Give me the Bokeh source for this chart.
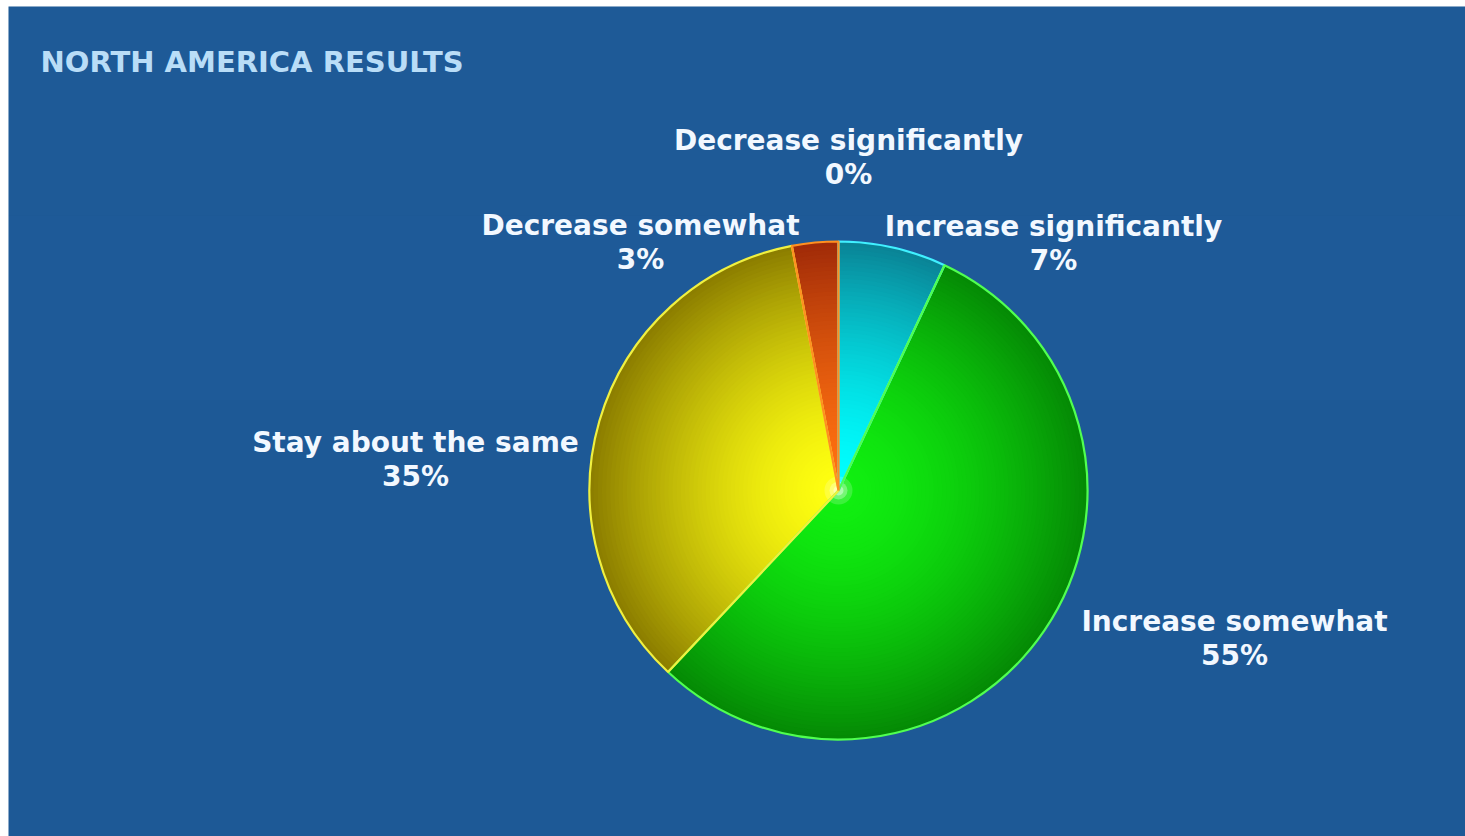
import numpy as np
from bokeh.plotting import figure
from bokeh.models import Range1d
from bokeh.core.properties import value
from bokeh.embed import file_html
from bokeh.resources import INLINE

# ---- data ----
title_text = "NORTH AMERICA RESULTS"
categories = ["Increase significantly", "Increase somewhat", "Stay about the same",
              "Decrease somewhat", "Decrease significantly"]
percents = [7, 55, 35, 3, 0]

# ---- styles / layout ----
center_colors = ["#00ffff", "#10f010", "#ffff10", "#ff7010", "#ff3000"]
edge_colors = ["#0a8496", "#058a05", "#8c7e00", "#a02a08", "#a02a08"]
outline_colors = ["#40f0ff", "#50ff50", "#f0f040", "#ff9020", "#ff9020"]
# label centre offsets (pixels) from the pie centre
label_offsets = [(215, 247), (396, -148), (-423, 31), (-198, 248), (10, 333)]

W, H = 1465, 836
ML, MT = 8, 6
cx, cy_img, R = 838, 490, 249
cy = H - cy_img

p = figure(width=W, height=H, output_backend="svg", toolbar_location=None,
           x_range=Range1d(ML, W), y_range=Range1d(0, H - MT),
           min_border_left=ML, min_border_top=MT, min_border_right=0, min_border_bottom=0)
p.axis.visible = False
p.grid.visible = False
p.outline_line_color = None
p.border_fill_color = "white"
p.background_fill_color = "#1d5996"

# faint background bands
p.quad(left=[ML], right=[W], bottom=[H - 400], top=[H - 215], fill_color="#3a78b8",
       fill_alpha=0.07, line_color=None)
p.quad(left=[ML], right=[W], bottom=[H - 215], top=[H - MT], fill_color="#3a78b8",
       fill_alpha=0.03, line_color=None)

def hex2rgb(h):
    h = h.lstrip("#")
    return np.array([int(h[i:i + 2], 16) for i in (0, 2, 4)], dtype=float)

def rgb2hex(c):
    c = np.clip(np.round(c), 0, 255).astype(int)
    return "#%02x%02x%02x" % tuple(c)

fracs = np.array(percents, dtype=float) / sum(percents)
cum = np.concatenate([[0], np.cumsum(fracs)])
starts = np.pi / 2 - 2 * np.pi * cum[1:]
ends = np.pi / 2 - 2 * np.pi * cum[:-1]

N = 60
for i, f in enumerate(fracs):
    if f <= 0:
        continue
    c0 = hex2rgb(center_colors[i])
    c1 = hex2rgb(edge_colors[i])
    for k in range(N):
        t = 1 - k / N
        r = R * t
        col = c0 + (c1 - c0) * (t ** 1.6)
        p.wedge(x=[cx], y=[cy], radius=[r], start_angle=[starts[i]], end_angle=[ends[i]],
                fill_color=rgb2hex(col), line_color=None)

# centre highlight
for k, rr in enumerate([14, 9, 5]):
    p.circle(x=[cx], y=[cy], radius=rr, fill_color="white", fill_alpha=0.18 + 0.12 * k,
             line_color=None)

# outlines
for i, f in enumerate(fracs):
    if f <= 0:
        continue
    p.wedge(x=[cx], y=[cy], radius=[R], start_angle=[starts[i]], end_angle=[ends[i]],
            fill_color=None, line_color=outline_colors[i], line_width=2.2)

# labels
for i, name in enumerate(categories):
    dx, dy = label_offsets[i]
    lx, ly = cx + dx, cy + dy
    p.text(x=[lx], y=[ly + 17], text=[name], text_align="center", text_baseline="middle",
           text_font=value("DejaVu Sans"), text_font_style="bold", text_font_size="28px",
           text_color="#f2f8ff")
    p.text(x=[lx], y=[ly - 17], text=["%d%%" % percents[i]], text_align="center",
           text_baseline="middle", text_font=value("DejaVu Sans"), text_font_style="bold",
           text_font_size="28px", text_color="#f2f8ff")

p.text(x=[40], y=[H - 61], text=[title_text], text_align="left", text_baseline="middle",
       text_font=value("DejaVu Sans"), text_font_style="bold", text_font_size="29px",
       text_color="#b9ddf7")

open("out.html", "w").write(file_html(p, INLINE))
